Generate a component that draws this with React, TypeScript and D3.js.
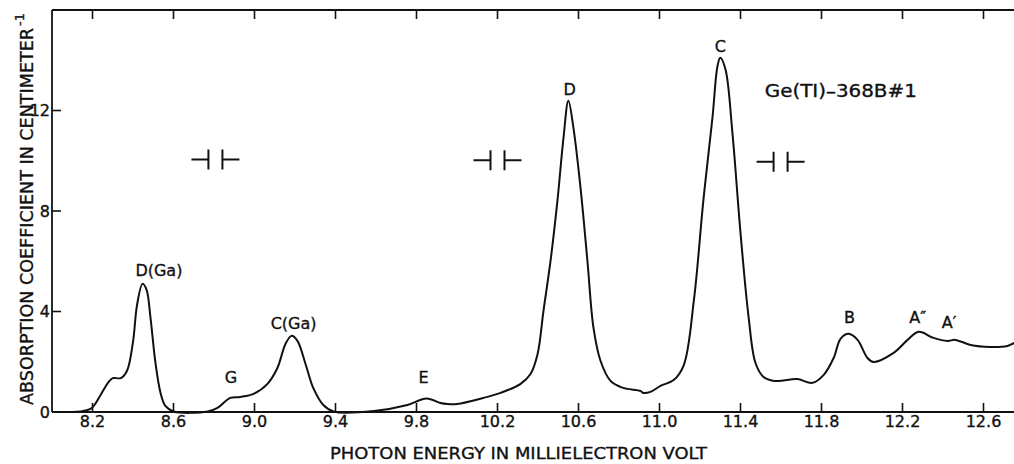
import React from "react";
import * as d3 from "d3";

// Photon energy (meV) samples
const energy: number[] = [
  8.1, 8.14, 8.19, 8.21, 8.24, 8.28, 8.3, 8.34, 8.37, 8.4, 8.42, 8.447, 8.467, 8.486, 8.511, 8.536, 8.56, 8.6,
  8.77, 8.817, 8.88, 8.93, 8.995, 9.064, 9.113, 9.153, 9.183, 9.212, 9.252, 9.29, 9.34, 9.39,
  9.59, 9.755, 9.85, 9.918, 9.953, 10.0, 10.13, 10.215, 10.314, 10.363, 10.398, 10.427, 10.462, 10.496, 10.526,
  10.55, 10.575, 10.61, 10.644, 10.674, 10.709, 10.758, 10.807, 10.842, 10.906, 10.92, 10.955, 11.005, 11.07,
  11.12, 11.17, 11.217, 11.262, 11.286, 11.3, 11.326, 11.36, 11.4, 11.44, 11.474, 11.514, 11.56, 11.6, 11.68,
  11.755, 11.81, 11.86, 11.894, 11.934, 11.978, 12.027, 12.057, 12.156, 12.225, 12.28, 12.353, 12.422, 12.461,
  12.536, 12.634, 12.718, 12.753, 12.8,
];
// Absorption coefficient (cm^-1) at each energy
const absorption: number[] = [
  0, 0.02, 0.12, 0.28, 0.68, 1.2, 1.35, 1.35, 1.63, 2.79, 4.26, 5.1, 4.86, 3.78, 1.95, 0.76, 0.24, 0.02,
  0.02, 0.16, 0.56, 0.6, 0.72, 1.12, 1.75, 2.71, 3.03, 2.83, 1.91, 0.96, 0.28, 0.02,
  0.04, 0.28, 0.54, 0.36, 0.32, 0.32, 0.56, 0.76, 1.12, 1.51, 2.31, 4.02, 6.02, 8.41, 10.92,
  12.39, 11.31, 8.92, 6.02, 3.35, 2.03, 1.24, 1.0, 0.92, 0.84, 0.76, 0.8, 1.04, 1.27,
  1.87, 4.46, 8.45, 11.75, 13.75, 14.1, 13.63, 11.12, 7.13, 3.78, 1.95, 1.39, 1.24, 1.24, 1.31,
  1.16, 1.47, 2.15, 2.91, 3.11, 2.87, 2.15, 1.99, 2.35, 2.87, 3.19, 2.95, 2.83, 2.87,
  2.67, 2.59, 2.63, 2.75, 2.87,
];

const xTicks: number[] = [8.2, 8.6, 9.0, 9.4, 9.8, 10.2, 10.6, 11.0, 11.4, 11.8, 12.2, 12.6];
const xTickLabels: string[] = ["8.2", "8.6", "9.0", "9.4", "9.8", "10.2", "10.6", "11.0", "11.4", "11.8", "12.2", "12.6"];
const yTicks: number[] = [0, 4, 8, 12];
const yTickLabels: string[] = ["0", "4", "8", "12"];

// Peak labels: text, energy, absorption (anchor = centre of baseline)
const peakNames: string[] = ["D(Ga)", "G", "C(Ga)", "E", "D", "C", "B", "A\u2033", "A\u2032"];
const peakLabelE: number[] = [8.528, 8.884, 9.193, 9.835, 10.556, 11.301, 11.938, 12.275, 12.43];
const peakLabelA: number[] = [5.42, 1.16, 3.31, 1.16, 12.63, 14.34, 3.55, 3.55, 3.35];

// Spectral slit-width markers (energy, absorption)
const slitE: number[] = [8.807, 10.2, 11.598];
const slitA: number[] = [10.05, 10.02, 9.96];

const sampleName = "Ge(TI)\u2013368B#1";
const sampleE = 11.52;
const sampleA = 12.55;

const W = 1014;
const H = 464;
const FONT = "'DejaVu Sans', 'Liberation Sans', sans-serif";
const INK = "#111";

export default function App() {
  const x = d3.scaleLinear().domain([8.0, 12.8]).range([52, 1024]);
  const y = d3.scaleLinear().domain([0, 16]).range([412, 10]);
  const left = x(8.0);
  const right = x(12.8);
  const top = y(16);
  const bottom = y(0);

  const pts: [number, number][] = energy.map((e, i) => [e, absorption[i]]);
  const line = d3
    .line<[number, number]>()
    .x((d) => x(d[0]))
    .y((d) => y(d[1]))
    .curve(d3.curveCatmullRom.alpha(0.5));

  const tickLen = 9;
  const textStroke = { stroke: INK, strokeWidth: 0.35 };

  return (
    <div style={{ position: "fixed", left: 0, top: 0 }}>
      <svg width={W} height={H} style={{ display: "block", background: "#fff" }}>
        <defs>
          <clipPath id="plotclip">
            <rect x={left} y={top} width={right - left} height={bottom - top + 2} />
          </clipPath>
        </defs>

        {/* frame */}
        <g stroke={INK} strokeWidth={1.8} fill="none">
          <line x1={left} y1={top} x2={right} y2={top} />
          <line x1={left} y1={bottom} x2={right} y2={bottom} />
          <line x1={left} y1={top} x2={left} y2={bottom} />
          <line x1={right} y1={top} x2={right} y2={bottom} />
        </g>

        {/* x ticks bottom & top, y ticks left & right */}
        <g stroke={INK} strokeWidth={1.6}>
          {xTicks.map((t) => (
            <g key={"xt" + t}>
              <line x1={x(t)} x2={x(t)} y1={bottom} y2={bottom - tickLen} />
              <line x1={x(t)} x2={x(t)} y1={top} y2={top + tickLen} />
            </g>
          ))}
          {yTicks.filter((t) => t > 0).map((t) => (
            <g key={"yt" + t}>
              <line x1={left} x2={left + tickLen} y1={y(t)} y2={y(t)} />
              <line x1={right} x2={right - tickLen} y1={y(t)} y2={y(t)} />
            </g>
          ))}
        </g>

        {/* tick labels */}
        <g fontFamily={FONT} fontSize={16} fill={INK} {...textStroke}>
          {xTicks.map((t, i) => (
            <text key={"xl" + t} x={x(t)} y={427} textAnchor="middle">
              {xTickLabels[i]}
            </text>
          ))}
          {yTicks.map((t, i) => (
            <text key={"yl" + t} x={50} y={y(t)} dy="0.36em" textAnchor="end">
              {yTickLabels[i]}
            </text>
          ))}
        </g>

        {/* axis titles */}
        <text
          x={330}
          y={459}
          fontFamily={FONT}
          fontSize={16}
          fill={INK}
          {...textStroke}
          textLength={377}
          lengthAdjust="spacingAndGlyphs"
        >
          PHOTON ENERGY IN MILLIELECTRON VOLT
        </text>
        <g transform="translate(33,405) rotate(-90)" {...textStroke}>
          <text x={0} y={0} fontFamily={FONT} fontSize={18} fill={INK} textLength={377} lengthAdjust="spacingAndGlyphs">
            ABSORPTION COEFFICIENT IN CENTIMETER
          </text>
          <text x={379} y={-9} fontFamily={FONT} fontSize={13} fill={INK}>
            -1
          </text>
        </g>

        {/* spectrum */}
        <path
          d={line(pts) ?? ""}
          fill="none"
          stroke={INK}
          strokeWidth={2}
          strokeLinejoin="round"
          clipPath="url(#plotclip)"
        />

        {/* slit markers */}
        <g stroke={INK} strokeWidth={2}>
          {slitE.map((e, i) => {
            const cx = x(e);
            const cy = y(slitA[i]);
            const g = 7;
            const arm = 17;
            const h = 10;
            return (
              <g key={"slit" + i}>
                <line x1={cx - g - arm} x2={cx - g} y1={cy} y2={cy} />
                <line x1={cx - g} x2={cx - g} y1={cy - h} y2={cy + h} />
                <line x1={cx + g} x2={cx + g} y1={cy - h} y2={cy + h} />
                <line x1={cx + g} x2={cx + g + arm} y1={cy} y2={cy} />
              </g>
            );
          })}
        </g>

        {/* peak labels */}
        <g fontFamily={FONT} fontSize={16} fill={INK} textAnchor="middle" {...textStroke}>
          {peakNames.map((n, i) => (
            <text key={"pl" + i} x={x(peakLabelE[i])} y={y(peakLabelA[i])}>
              {n}
            </text>
          ))}
        </g>
        <text
          x={x(sampleE)}
          y={y(sampleA)}
          fontFamily={FONT}
          fontSize={17}
          fill={INK}
          {...textStroke}
          textLength={152}
          lengthAdjust="spacingAndGlyphs"
        >
          {sampleName}
        </text>
      </svg>
    </div>
  );
}
